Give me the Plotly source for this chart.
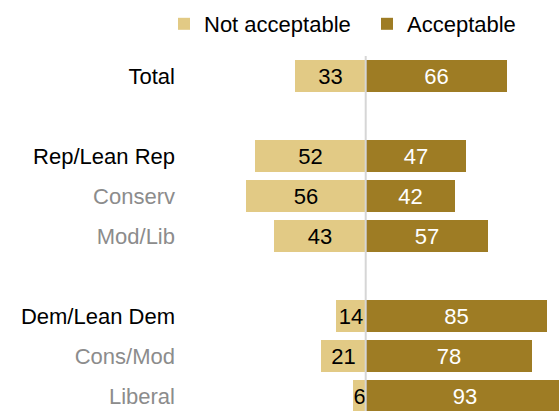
import plotly.graph_objects as go

# ---- data ----
groups = ["Total", "Rep/Lean Rep", "Conserv", "Mod/Lib", "Dem/Lean Dem", "Cons/Mod", "Liberal"]
not_acceptable = [33, 52, 56, 43, 14, 21, 6]
acceptable = [66, 47, 42, 57, 85, 78, 93]
is_header = [True, True, False, False, True, False, False]
# category order on the axis (blank rows separate the blocks)
row_order = ["Total", " ", "Rep/Lean Rep", "Conserv", "Mod/Lib", "  ", "Dem/Lean Dem", "Cons/Mod", "Liberal"]

LIGHT = "#E2CA85"
DARK = "#9E7C24"
FONT = "Liberation Sans, Arial, sans-serif"

W, H = 559, 411
center_px = 365.7
px_per_unit = 2.137
margin_l, margin_t = 180, 56

fig = go.Figure()
fig.add_trace(go.Bar(
    y=groups, x=[-v for v in not_acceptable], orientation="h",
    name="Not acceptable", marker=dict(color=LIGHT, line=dict(width=0)),
    text=[str(v) for v in not_acceptable], textposition="inside",
    insidetextanchor="middle", constraintext="none", textangle=0,
    textfont=dict(color="#000000", size=22, family=FONT),
    width=0.78, hoverinfo="skip", legend="legend",
))
fig.add_trace(go.Bar(
    y=groups, x=acceptable, orientation="h",
    name="Acceptable", marker=dict(color=DARK, line=dict(width=0)),
    text=[str(v) for v in acceptable], textposition="inside",
    insidetextanchor="middle", constraintext="none", textangle=0,
    textfont=dict(color="#FFFFFF", size=22, family=FONT),
    width=0.78, hoverinfo="skip", legend="legend2",
))

ticktext = []
for r in row_order:
    if r.strip() == "":
        ticktext.append("")
    else:
        i = groups.index(r)
        col = "#000000" if is_header[i] else "#8C8C8C"
        ticktext.append(f"<span style='color:{col}'>{r}</span>")

x_min = -(center_px - margin_l) / px_per_unit
x_max = (W - center_px) / px_per_unit

fig.add_shape(type="line", xref="x", yref="paper", x0=0, x1=0, y0=0, y1=1,
              line=dict(color="#D6D6D6", width=2), layer="above")

legend_style = dict(orientation="h", xref="container", yref="container",
                    y=1 - 24 / H, xanchor="left", yanchor="middle",
                    font=dict(size=22, family=FONT, color="#000000"),
                    bgcolor="rgba(0,0,0,0)", itemclick=False, itemdoubleclick=False)

fig.update_layout(
    width=W, height=H,
    margin=dict(l=margin_l, r=0, t=margin_t, b=0),
    barmode="relative", bargap=0,
    paper_bgcolor="white", plot_bgcolor="white",
    font=dict(family=FONT, size=22, color="#000000"),
    showlegend=True,
    legend=dict(x=164 / W, **legend_style),
    legend2=dict(x=367 / W, **legend_style),
    xaxis=dict(range=[x_min, x_max], visible=False, fixedrange=True),
    yaxis=dict(type="category", categoryorder="array", categoryarray=row_order,
               tickvals=row_order, ticktext=ticktext, range=[8.375, -0.5],
               showgrid=False, zeroline=False, showline=False, ticks="",
               ticklabelstandoff=4,
               tickfont=dict(size=22, family=FONT), fixedrange=True),
)

fig.write_html("out.html", config={"displayModeBar": False},
               post_script="document.body.style.margin='0';document.body.style.padding='0';")
